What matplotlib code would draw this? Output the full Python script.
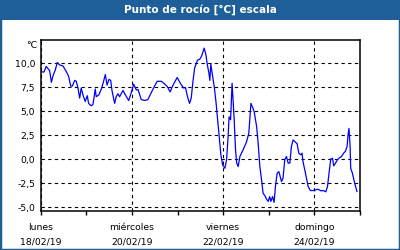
import matplotlib
matplotlib.use("Agg")
import matplotlib.pyplot as plt
from matplotlib.patches import Rectangle
from matplotlib.ticker import FixedLocator, FuncFormatter

# dew point, hours since 18/02/19 00:00
hours = [0, 1.7, 2.9, 4.7, 5.6, 6.5, 7.7, 8.7, 10.0, 11.7, 13.5, 14.7, 15.8, 16.6,
         17.9, 18.7, 19.6, 20.5, 21.3, 22.2, 23.4, 24.5, 25.2, 26.6, 27.5, 28.7,
         29.2, 30.6, 31.9, 32.8, 34.0, 34.9, 35.9, 36.8, 37.5, 38.9, 39.7, 40.6,
         41.5, 43.3, 44.5, 46.3, 47.6, 48.9, 50.3, 51.2, 52.9, 54.7, 56.4, 58.1,
         59.9, 61.3, 63.4, 64.8, 66.6, 68.1, 69.6, 71.8, 73.6, 75.2, 76.2, 77.1,
         78.3, 79.2, 80.1, 81.0, 82.5, 83.7, 84.6, 86.0, 86.9, 87.6, 88.5, 89.0,
         89.5, 90.2, 91.3, 92.2, 93.1, 93.9, 94.8, 95.7, 96.9, 97.8, 98.6, 99.1,
         99.9, 100.7, 101.8, 102.5, 103.1, 103.9, 104.8, 106.5, 108.3, 109.5,
         110.6, 111.3, 112.3, 113.6, 114.4, 115.3, 116.2, 117.0, 117.9, 118.8,
         119.7, 120.5, 121.1, 122.0, 122.8, 123.5, 124.4, 125.3, 126.7, 127.5,
         128.4, 129.3, 130.2, 131.1, 131.9, 132.8, 133.7, 134.9, 135.8, 136.8,
         137.5, 138.0, 139.3, 140.7, 141.9, 143.3, 144.6, 145.9, 147.4, 148.6,
         150.0, 150.9, 151.7, 152.6, 153.5, 154.2, 155.1, 156.1, 157.0, 158.2,
         159.4, 160.3, 161.2, 161.7, 162.2, 162.8, 163.1, 164.0, 165.2, 166.4]
dew_point = [9.1, 9.06, 9.65, 9.2, 8.0, 8.7, 9.3, 10.06, 9.8, 9.7, 9.1, 8.6, 7.6, 7.6,
             8.2, 8.1, 7.4, 6.35, 7.4, 6.7, 6.0, 6.6, 5.8, 5.55, 5.7, 7.3,
             6.5, 6.7, 7.3, 7.9, 8.8, 7.7, 8.3, 8.2, 7.15, 5.8, 6.5, 6.8,
             6.5, 7.15, 6.7, 6.1, 6.9, 7.8, 7.2, 7.25, 6.2, 6.1, 6.2, 6.9,
             7.6, 8.1, 8.1, 7.9, 7.55, 7.0, 7.7, 8.5, 7.85, 7.4, 7.45, 6.6,
             5.8, 6.35, 8.1, 9.5, 10.3, 10.4, 10.7, 11.55, 10.9, 9.9, 8.95, 8.2,
             9.9, 8.95, 7.55, 6.0, 4.1, 2.35, 0.45, -0.6, -0.95, -0.07, 2.35, 4.4,
             4.1, 7.9, 4.1, 0.97, -0.4, -0.77, 0.27, 0.97, 1.8, 2.7,
             5.8, 5.5, 4.95, 3.4, 1.67, -0.77, -2.15, -3.55, -3.8, -4.15,
             -4.4, -3.9, -4.4, -3.9, -4.5, -2.85, -1.46, -1.3, -2.33, -1.98,
             -0.07, 0.27, -0.42, -0.4, 1.3, 2.0, 1.83, 1.6, 0.62, 0.45,
             0.62, -0.25, -1.46, -2.85, -3.27, -3.27, -3.2, -3.13, -3.3, -3.27,
             -3.4, -2.85, -1.46, 0.0, 0.1, -0.7, -0.42, -0.07, 0.1, 0.27,
             0.62, 0.8, 1.3, 2.5, 3.2, 1.3, -0.95, -1.46, -2.5, -3.37]

major_hours = [0, 48, 96, 144]
minor_hours = [24, 72, 120, 168]
day_labels = ["lunes\n18/02/19", "miércoles\n20/02/19", "viernes\n22/02/19", "domingo\n24/02/19"]
y_ticks = [-5.0, -2.5, 0.0, 2.5, 5.0, 7.5, 10.0]

BLUE_BAR = "#1f5f99"

fig = plt.figure(figsize=(4, 2.5), dpi=100)
fig.patch.set_facecolor("white")

# title bar and frame
fig.patches.append(Rectangle((0, 0.92), 1, 0.08, transform=fig.transFigure,
                             facecolor=BLUE_BAR, edgecolor="none", zorder=0))
fig.patches.append(Rectangle((0, 0), 1, 1, transform=fig.transFigure, fill=False,
                             edgecolor=BLUE_BAR, linewidth=2.5, zorder=1))
fig.text(0.5, 0.96, "Punto de rocío [°C] escala", color="white", fontsize=7.5,
         fontweight="bold", ha="center", va="center")

ax = fig.add_axes([0.1018, 0.156, 0.7982, 0.684])
ax.plot(hours, dew_point, color="#0000ff", linewidth=0.9)

ax.set_xlim(0, 168)
ax.set_ylim(-5.4, 12.4)

ax.xaxis.set_major_locator(FixedLocator(major_hours))
ax.xaxis.set_minor_locator(FixedLocator(minor_hours))
ax.set_xticklabels(day_labels)
ax.set_yticks(y_ticks)
ax.yaxis.set_major_formatter(FuncFormatter(lambda v, p: f"{v:.1f}".replace(".", ",")))

ax.tick_params(axis="x", which="both", direction="out", length=3, width=1,
               labelsize=6.7, colors="black")
ax.tick_params(axis="x", which="major", pad=6)
ax.tick_params(axis="y", length=0, pad=4, labelsize=6.7, colors="black")
for label in ax.get_xticklabels():
    label.set_linespacing(1.75)

ax.grid(True, which="major", color="black", linestyle=(0, (3, 3)), linewidth=0.8)
for spine in ax.spines.values():
    spine.set_linewidth(1.1)

fig.text(37 / 400, 1 - 46 / 250, "°C", fontsize=6.7, ha="right", va="center")

fig.savefig("out.png", dpi=100)
